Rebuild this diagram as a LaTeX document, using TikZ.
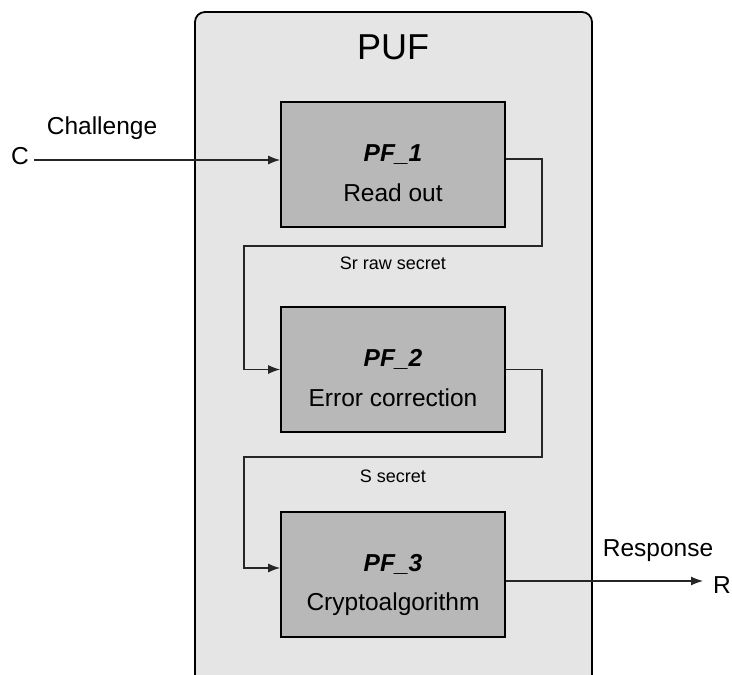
\documentclass[tikz,border=0pt]{standalone}
\usepackage{fontspec}
\setmainfont{Liberation Sans}
\usetikzlibrary{arrows.meta}
\definecolor{pufbg}{HTML}{E5E5E5}
\definecolor{blockbg}{HTML}{B8B8B8}
\tikzset{
  x=1pt, y=-1pt,
  txt/.style={inner sep=0pt, anchor=base, font=\fontsize{24.5}{28}\selectfont},
  bigtxt/.style={inner sep=0pt, anchor=base, font=\fontsize{36}{40}\selectfont},
  smalltxt/.style={inner sep=0pt, anchor=base, font=\fontsize{18}{22}\selectfont},
  titletxt/.style={txt, font=\fontsize{24.5}{28}\selectfont\bfseries\itshape},
  block/.style={draw=black, line width=1.8pt, fill=blockbg, minimum width=224pt, minimum height=125pt, inner sep=0pt},
  conn/.style={draw=black!85, line width=1.1pt},
  arr/.style={conn, -{Latex[length=12pt,width=9pt]}}
}
\begin{document}
\begin{tikzpicture}
\useasboundingbox (0,0) rectangle (732,675);
\begin{scope}
\clip (0,0) rectangle (732,675);
% PUF enclosure (continues below the page edge)
\draw[line width=1.8pt, fill=pufbg, rounded corners=10pt] (195,12) rectangle (592,720);
\end{scope}
\node[bigtxt] (puf) at (393,59) {PUF};

% processing blocks
\node[block] (pf1) at (393,164.5) {};
\node[block] (pf2) at (393,369.5) {};
\node[block] (pf3) at (393,574.5) {};

\node[titletxt] (t1) at (393,161) {PF\_1};
\node[txt] (l1) at (393,201) {Read out};
\node[titletxt] (t2) at (393,366) {PF\_2};
\node[txt] (l2) at (393,406) {Error correction};
\node[titletxt] (t3) at (393,571) {PF\_3};
\node[txt] (l3) at (393,610) {Cryptoalgorithm};

% challenge input
\node[txt] (c) at (20,164) {C};
\node[txt] (chal) at (102,134) {Challenge};
\coordinate (cin) at (34,160);
\draw[arr] (cin) -- ([yshift=4.5pt]pf1.west);

% raw secret path
\draw[arr] ([yshift=5.5pt]pf1.east) -- (542,159) -- (542,246) -- (244,246) -- (244,369.5) -- (pf2.west);
\node[smalltxt] (sr) at (393,269) {Sr raw secret};

% secret path
\draw[arr] (pf2.east) -- (542,369.5) -- (542,457) -- (244,457) -- (244,568) -- ([yshift=6.5pt]pf3.west);
\node[smalltxt] (s) at (393,482) {S secret};

% response output
\coordinate (rout) at (703,581);
\draw[arr] ([yshift=-6.5pt]pf3.east) -- (rout);
\node[txt, anchor=base west] (r) at (713,593) {R};
\node[txt] (resp) at (658,556) {Response};
\end{tikzpicture}
\end{document}
